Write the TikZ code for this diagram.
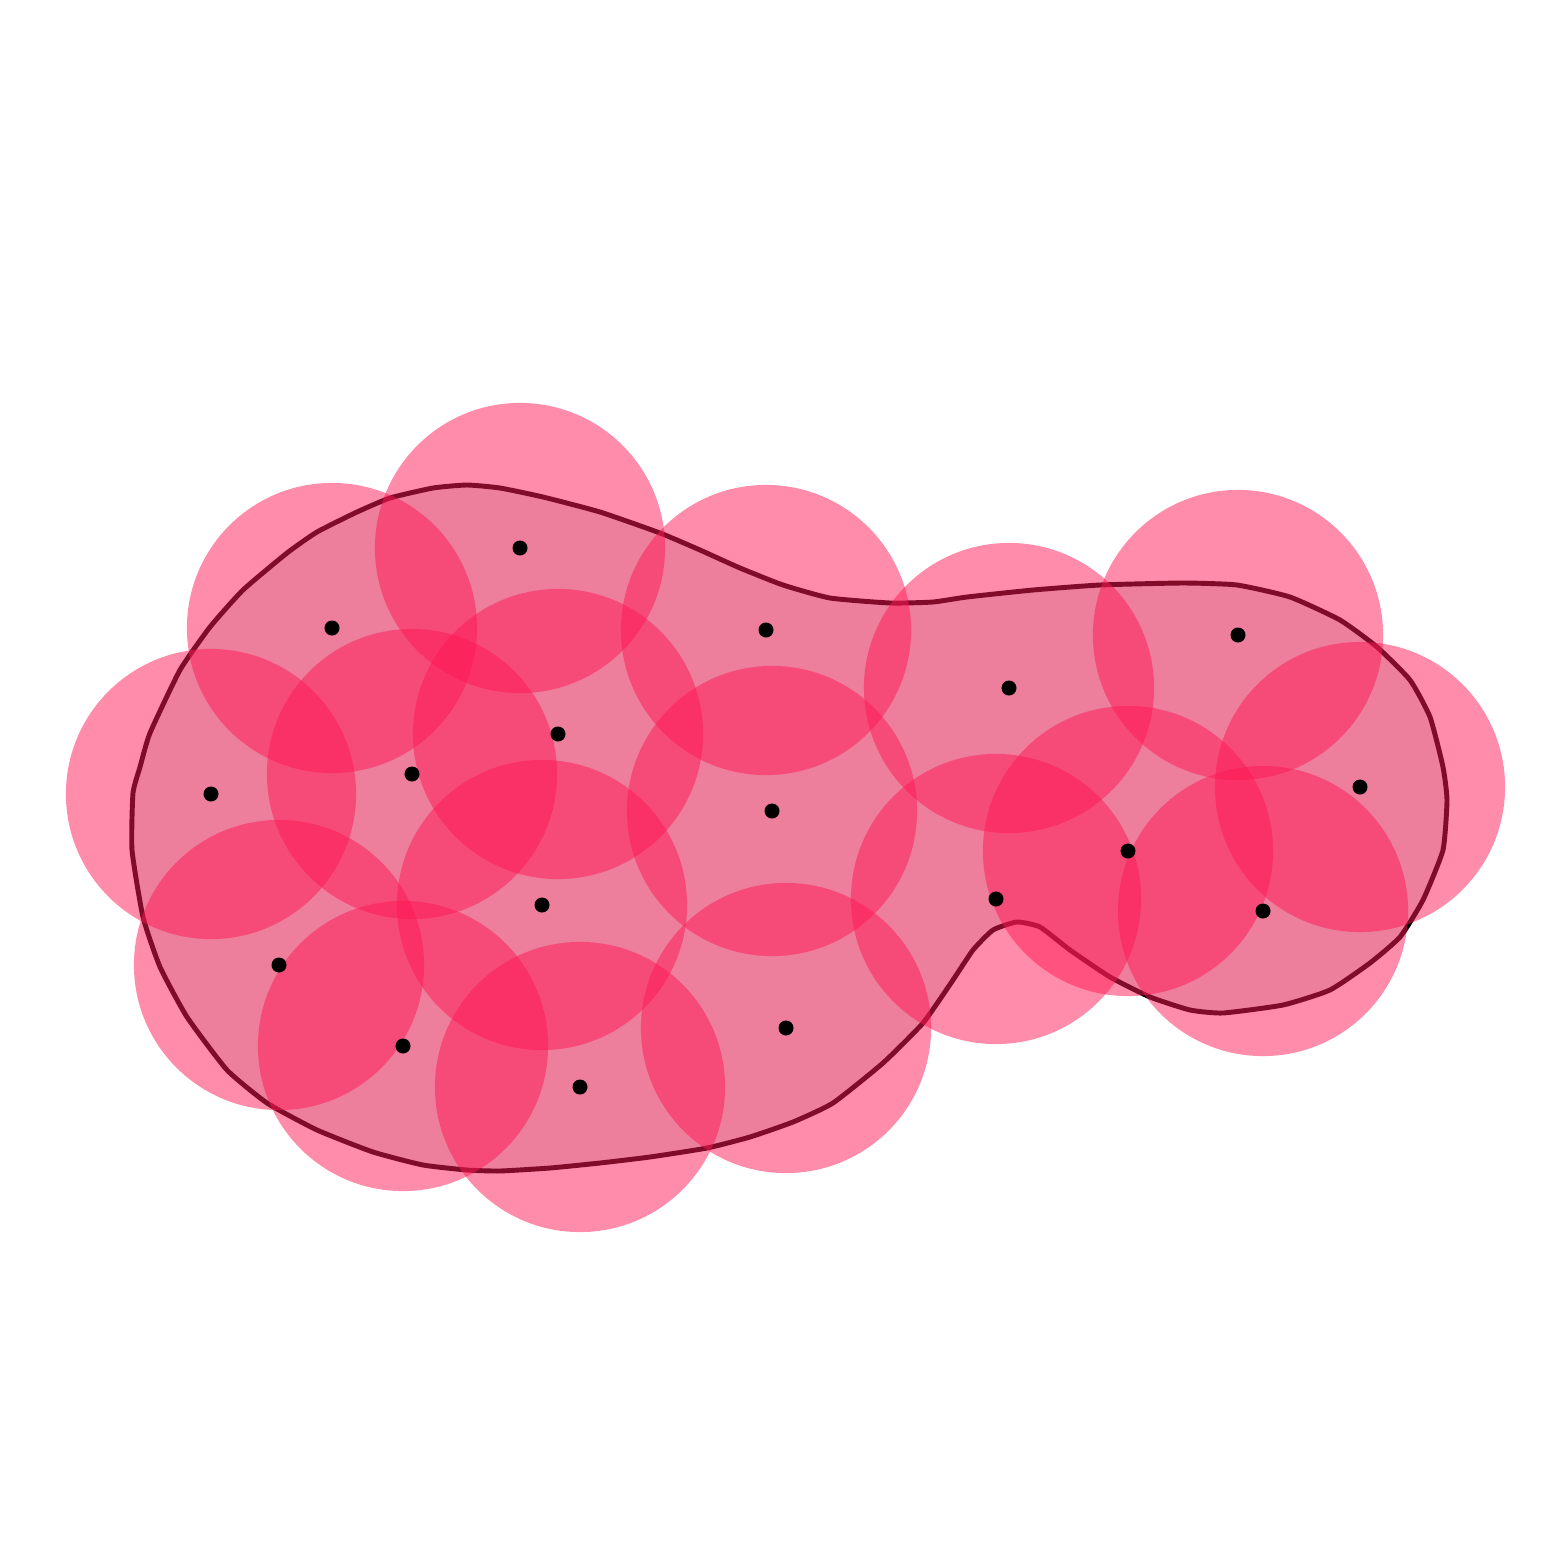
\documentclass[tikz,border=0pt]{standalone}
\usepackage{tikz}
\usetikzlibrary{calc}

\definecolor{discpink}{RGB}{255,25,85}
\definecolor{hullgray}{RGB}{220,228,228}

\begin{document}
\begin{tikzpicture}[x=0.01cm,y=-0.01cm,
  disc/.style={fill=discpink,fill opacity=0.5},
  site/.style={fill=black}]
\useasboundingbox (0,0) rectangle (1563,1563);
% hull under the discs
\filldraw[fill=hullgray,draw=black,line width=1.4pt,line join=round]
  plot[smooth cycle,tension=0.3] coordinates {
  (133,793) (140,767) (150,733) (180,670) (210,627) (243,590) (287,553)
  (317,532) (357,512) (390,498) (433,488) (467,485) (500,488) (543,497)
  (600,512) (660,533) (700,550) (740,568) (783,585) (830,598) (890,603)
  (933,602) (967,597) (1033,590) (1100,585) (1183,583) (1237,585)
  (1290,597) (1340,620) (1377,647) (1410,680) (1430,717) (1443,767)
  (1447,800) (1443,850) (1423,900) (1400,937) (1370,963) (1330,990)
  (1283,1005) (1223,1013) (1190,1010) (1150,997) (1110,977) (1070,950)
  (1040,927) (1017,922) (993,930) (973,950) (953,980) (923,1023)
  (883,1063) (833,1103) (793,1122) (750,1137) (707,1148) (650,1157)
  (600,1163) (550,1168) (500,1171) (467,1170) (423,1165) (373,1152)
  (317,1130) (267,1103) (227,1070) (187,1017) (160,967) (143,917)
  (132,850)};
% discs
\foreach \px/\py [count=\i] in {211/794,332/628,520/548,412/774,558/734,
    279/965,403/1046,542/905,580/1087,766/630,772/811,786/1028,
    1009/688,996/899,1128/851,1238/635,1263/911,1360/787}{
  \coordinate (s\i) at (\px,\py);
  \fill[disc] (s\i) circle[radius=1.45cm];
}
% sites
\foreach \i in {1,...,18}
  \fill[site] (s\i) circle[radius=0.075cm];
\end{tikzpicture}
\end{document}
